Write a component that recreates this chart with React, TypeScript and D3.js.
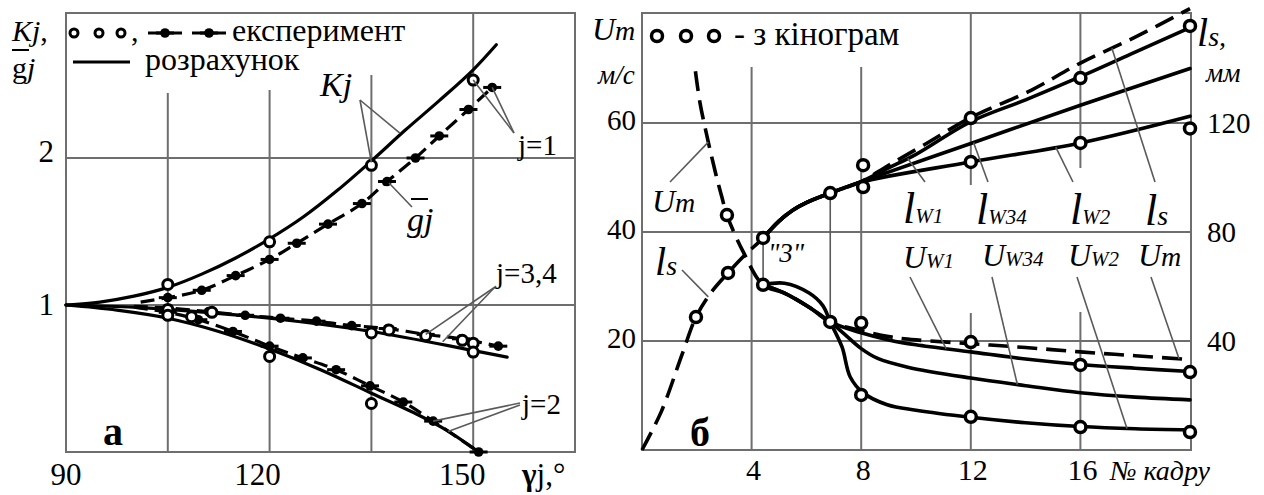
import React from 'react';
import * as d3 from 'd3';

// ---------- panel "а": Kj, gj against gamma_j ----------
const kj1CalcG = [90, 95, 100, 105, 110, 115, 120, 125, 130, 135, 140, 145, 150, 153.4];
const kj1CalcV = [1, 1.02, 1.06, 1.12, 1.21, 1.32, 1.45, 1.6, 1.78, 1.98, 2.19, 2.39, 2.6, 2.77];
const kj1ExpG = [105, 120, 135, 150];
const kj1ExpV = [1.14, 1.43, 1.95, 2.53];
const gj1G = [101, 105, 110, 115, 120, 124, 128.6, 133.6, 137.3, 141.5, 145, 149.3, 152.8];
const gj1V = [1.02, 1.05, 1.1, 1.2, 1.31, 1.42, 1.55, 1.69, 1.84, 2.0, 2.15, 2.33, 2.48];

const calc34G = [90, 100, 105, 120, 135, 150, 155];
const calc34V = [1, 0.985, 0.97, 0.91, 0.82, 0.69, 0.645];
const exp34G = [105, 111.5, 135, 137.6, 143, 148.4, 150, 150];
const exp34V = [0.97, 0.95, 0.81, 0.83, 0.79, 0.76, 0.74, 0.68];
const dash34G = [100, 105, 111, 116.4, 121.6, 126.9, 132.1, 137.4, 143, 148.2, 153.7];
const dash34V = [0.99, 0.98, 0.955, 0.93, 0.91, 0.89, 0.86, 0.84, 0.8, 0.77, 0.72];

const calc2G = [90, 97.5, 105, 112.5, 120, 127.5, 135, 142, 146, 150.8];
const calc2V = [1, 0.965, 0.91, 0.82, 0.7, 0.56, 0.4, 0.25, 0.15, 0];
const exp2G = [105, 108.5, 120, 135];
const exp2V = [0.93, 0.92, 0.65, 0.33];
const dash2G = [100, 105, 109.5, 114.6, 120, 124.9, 129.8, 134.8, 139.7, 144.1, 150.8];
const dash2V = [0.985, 0.95, 0.9, 0.82, 0.72, 0.64, 0.56, 0.45, 0.34, 0.21, 0];

const gammaTicks = [90, 120, 150];
const gammaTickShift = [0, -12, -11];
const kTicks = [1, 2];

// ---------- panel "б": frames ----------
const lsX = [0, 0.7, 1.46, 1.97, 2.5, 3.14, 3.7, 4.42, 5, 5.5, 6, 6.87, 8, 9, 10.3, 12, 14.2, 16, 18, 20];
const lsY = [0, 14, 35, 48.8, 57.5, 65, 71, 77.8, 84, 88, 90.8, 94.3, 98.5, 104.5, 112, 122, 132, 142, 151.5, 162];
const lW1X = [4.42, 5, 5.5, 6, 6.87, 8, 9, 10, 12, 14, 16, 18, 20];
const lW1Y = [77.8, 84, 88, 90.8, 94.3, 98.5, 103.5, 108.5, 120.5, 128.5, 137, 146, 155];
const lW34X = [4.42, 5, 5.5, 6, 6.87, 8, 12, 16, 20];
const lW34Y = [77.8, 84, 88, 90.8, 94.3, 98.5, 112.5, 126.5, 140];
const lW2X = [4.42, 5, 5.5, 6, 6.87, 8, 12, 16, 20];
const lW2Y = [77.8, 84, 88, 90.8, 94.3, 98.3, 105.7, 112.7, 122.5];

const umX = [1.95, 2.12, 2.42, 2.7, 2.91, 3.1, 3.7, 4.42, 5.2, 6.1, 6.87, 8, 9, 10, 12, 14, 16, 18, 20];
const umY = [69.5, 63.6, 56.5, 50.5, 46.5, 43.1, 36.3, 30.3, 28.8, 26.2, 23.5, 21.9, 20.8, 20.2, 19.5, 18.8, 18.0, 17.3, 16.6];
const uW1X = [4.42, 5.2, 6.1, 6.87, 8, 9, 10, 12, 14, 16, 18, 20];
const uW1Y = [30.3, 28.8, 26.2, 23.5, 21.5, 20.2, 19.3, 18.0, 16.7, 15.7, 15.0, 14.4];
const uW34X = [4.42, 5.2, 6.1, 6.87, 7.4, 8, 8.6, 9.7, 12, 14, 16, 18, 20];
const uW34Y = [30.3, 28.8, 26.2, 23.5, 21.2, 18.6, 16.8, 15.2, 13.2, 11.8, 10.5, 9.7, 9.2];
const uW2X = [4.42, 5.2, 6.1, 6.6, 6.87, 7.3, 7.6, 8.07, 8.95, 10, 12, 14, 16, 18, 20];
const uW2Y = [30.3, 30.6, 28.8, 26.5, 23.5, 18.9, 13.4, 10.5, 8.3, 7.3, 6.0, 5.0, 4.3, 3.9, 3.7];

// points from the kinograms
const kinoLX = [1.97, 3.14, 4.42, 6.87, 8.07, 8.07, 12, 12, 16, 16, 20, 20];
const kinoLY = [48.8, 65, 77.8, 94.3, 104.5, 96.5, 121.8, 105.7, 136.5, 112.7, 155.6, 118];
const kinoUX = [3.1, 4.42, 6.87, 8, 8, 12, 12, 16, 16, 20, 20];
const kinoUY = [43.1, 30.3, 23.5, 23.3, 10.1, 19.8, 6.1, 15.6, 4.2, 14.3, 3.3];

const frameTicks = [4, 8, 12, 16];
const uTicks = [20, 40, 60];
const lTicks = [40, 80, 120];

const FONT = "'Liberation Serif', 'Times New Roman', Times, serif";
const GRID = '#6e6e6e';
const LEAD = '#5a5a5a';

// layout
const aL = 66, aR = 575, aT = 13, aB = 452;
const bL = 642, bR = 1191, bT = 13, bB = 450;

const xA = d3.scaleLinear().domain([90, 165]).range([aL, aR]);
const yA = d3.scaleLinear().domain([0, 3]).range([aB, 11]);
const xB = d3.scaleLinear().domain([0, 20]).range([bL, 1190]);
const yU = d3.scaleLinear().domain([0, 60]).range([bB, 123]);
const yLs = d3.scaleLinear().domain([0, 120]).range([bB, 123]);

const curve = d3.line<[number, number]>().curve(d3.curveCatmullRom.alpha(0.5));

const pts = (xs: number[], ys: number[], sx: any, sy: any): [number, number][] =>
  xs.map((x, i) => [sx(x), sy(ys[i])]);

// linear read-off of a series at x, used to aim the leader lines
const at = (xs: number[], ys: number[], x: number) => {
  const i = Math.max(1, d3.bisectLeft(xs, x));
  const t = (x - xs[i - 1]) / (xs[i] - xs[i - 1]);
  return ys[i - 1] + t * (ys[i] - ys[i - 1]);
};

const T = (props: any) => {
  const { size, italic, bold, children, ...rest } = props;
  return (
    <text {...rest} fontFamily={FONT} fontSize={size} fontStyle={italic ? 'italic' : 'normal'} fontWeight={bold ? 700 : 400}>
      {children}
    </text>
  );
};

const Sub = ({ x, y, main, sub, big, small }: any) => (
  <T x={x} y={y} italic>
    <tspan fontSize={big}>{main}</tspan>
    <tspan fontSize={small}>{sub}</tspan>
  </T>
);

export default function App() {
  const solid = { fill: 'none', stroke: '#000', strokeWidth: 3.2, strokeLinecap: 'round' as const };
  const dashedA = { ...solid, strokeDasharray: '14 7', strokeLinecap: 'butt' as const };
  const dashedB = { ...solid, strokeWidth: 3.6, strokeDasharray: '20 9', strokeLinecap: 'butt' as const };

  const ring = (cx: number, cy: number, r: number, k: string, w = 3) => (
    <circle key={k} cx={cx} cy={cy} r={r} fill="#fff" stroke="#000" strokeWidth={w} />
  );
  const dot = (cx: number, cy: number, k: string) => (
    <g key={k}>
      <line x1={cx - 9} x2={cx + 9} y1={cy} y2={cy} stroke="#000" strokeWidth={3} />
      <circle cx={cx} cy={cy} r={4.8} fill="#000" />
    </g>
  );

  const leadA: [number, number, number, number][] = [
    [360, 100, 135, 1.97], [360, 100, 139.2, 2.17],
    [412, 207, 137.6, 1.83],
    [514, 133, 150, 2.53], [514, 133, 152.8, 2.48],
    [495, 287, 143, 0.8], [495, 287, 145.5, 0.75],
    [520, 403, 144.1, 0.21], [520, 405, 146.3, 0.14],
  ];

  const leadB = [
    [925, 182, xB(9.7), yLs(at(lW1X, lW1Y, 9.7))],
    [988, 182, xB(12.1), yLs(at(lW34X, lW34Y, 12.1))],
    [1073, 182, xB(15.1), yLs(at(lW2X, lW2Y, 15.1))],
    [1155, 182, xB(17.15), yLs(at(lsX, lsY, 17.15))],
    [910, 277, xB(11.1), yU(at(uW1X, uW1Y, 11.1))],
    [992, 277, xB(13.7), yU(at(uW34X, uW34Y, 13.7))],
    [1077, 277, xB(17.7), yU(at(uW2X, uW2Y, 17.7))],
    [1151, 277, xB(19.6), yU(at(umX, umY, 19.6))],
    [670, 182, xB(2.42), yU(at(umX, umY, 2.42))],
    [682, 270, xB(2.42), yLs(at(lsX, lsY, 2.42))],
  ];

  return (
    <svg width={1264} height={495} style={{ position: 'absolute', left: 0, top: 0, background: '#fff' }}>
      {/* ================= panel a ================= */}
      <g>
        {[[105, 93], [120, 90], [135, 75], [150, aT]].map(([g, top]) => (
          <line key={'va' + g} x1={xA(g)} x2={xA(g)} y1={top} y2={aB} stroke={GRID} strokeWidth={2} />
        ))}
        {kTicks.map(v => (
          <line key={'ha' + v} x1={aL} x2={aR} y1={yA(v)} y2={yA(v)} stroke={GRID} strokeWidth={2} />
        ))}
        <rect x={aL} y={aT} width={aR - aL} height={aB - aT} fill="none" stroke={GRID} strokeWidth={2} />

        {[74, 99, 121].map(cx => ring(cx, 33, 4, 'lg' + cx, 3))}
        <T x={131} y={41} size={30}>,</T>
        {[148, 192].map(x0 => (
          <line key={'ll' + x0} x1={x0} x2={x0 + 34} y1={33} y2={33} stroke="#000" strokeWidth={3} />
        ))}
        {[165, 209].map(cx => dot(cx, 33, 'ld' + cx))}
        <T x={232} y={41} size={32}>експеримент</T>
        <line x1={73} x2={130} y1={62} y2={62} stroke="#000" strokeWidth={3} />
        <T x={145} y={70} size={32}>розрахунок</T>

        <path d={curve(pts(kj1CalcG, kj1CalcV, xA, yA)) || ''} {...solid} />
        <path d={curve(pts(calc34G, calc34V, xA, yA)) || ''} {...solid} />
        <path d={curve(pts(calc2G, calc2V, xA, yA)) || ''} {...solid} />

        <path d={curve(pts(gj1G, gj1V, xA, yA)) || ''} {...dashedA} />
        <path d={curve(pts(dash34G, dash34V, xA, yA)) || ''} {...dashedA} />
        <path d={curve(pts(dash2G, dash2V, xA, yA)) || ''} {...dashedA} />
        {gj1G.slice(1).map((g, i) => dot(xA(g), yA(gj1V[i + 1]), 'g1' + i))}
        {dash34G.slice(2).map((g, i) => dot(xA(g), yA(dash34V[i + 2]), 'g34' + i))}
        {dash2G.slice(1).map((g, i) => dot(xA(g), yA(dash2V[i + 1]), 'g2' + i))}

        {kj1ExpG.map((g, i) => ring(xA(g), yA(kj1ExpV[i]), 5, 'k1' + i))}
        {exp34G.map((g, i) => ring(xA(g), yA(exp34V[i]), 5, 'k34' + i))}
        {exp2G.map((g, i) => ring(xA(g), yA(exp2V[i]), 5, 'k2' + i))}

        {leadA.map(([x1, y1, g, v], i) => (
          <line key={'la' + i} x1={x1} y1={y1} x2={xA(g)} y2={yA(v)} stroke={LEAD} strokeWidth={1.6} />
        ))}

        <T x={320} y={96} size={34} italic>Kj</T>
        <T x={407} y={231} size={34} italic>gj</T>
        <line x1={411} x2={428} y1={199} y2={199} stroke="#000" strokeWidth={2} />
        <T x={518} y={155} size={29}>j=1</T>
        <T x={496} y={283} size={29}>j=3,4</T>
        <T x={522} y={414} size={29}>j=2</T>
        <T x={103} y={445} size={40} bold>а</T>

        <T x={12} y={41} size={30}>
          <tspan fontStyle="italic">Kj</tspan>,
        </T>
        <line x1={12} x2={29} y1={50} y2={50} stroke="#000" strokeWidth={2} />
        <T x={12} y={78} size={30}>
          g<tspan fontStyle="italic">j</tspan>
        </T>
        {kTicks.map(v => (
          <T key={'kt' + v} x={54} y={yA(v) + (v === 1 ? 10 : 4)} textAnchor="end" size={31}>{v}</T>
        ))}
        {gammaTicks.map((g, i) => (
          <T key={'gt' + g} x={xA(g) + gammaTickShift[i]} y={485} textAnchor="middle" size={31}>{g}</T>
        ))}
        <T x={522} y={485} size={31}>
          <tspan fontWeight={700}>γ</tspan>j,°
        </T>
      </g>

      {/* ================= panel б ================= */}
      <g>
        {[[4, 67, bB], [8, 67, bB], [12, bT, 185], [12, 313, bB], [16, bT, 168], [16, 312, bB]].map(([f, y1, y2], i) => (
          <line key={'vb' + i} x1={xB(f)} x2={xB(f)} y1={y1} y2={y2} stroke={GRID} strokeWidth={2} />
        ))}
        {uTicks.map(v => (
          <line key={'hb' + v} x1={bL} x2={bR} y1={yU(v)} y2={yU(v)} stroke={GRID} strokeWidth={2} />
        ))}
        <rect x={bL} y={bT} width={bR - bL} height={bB - bT} fill="none" stroke={GRID} strokeWidth={2} />

        {[4.42, 6.87].map(f => (
          <line key={'cn' + f} x1={xB(f)} x2={xB(f)} y1={yLs(at(lsX, lsY, f))} y2={yU(at(umX, umY, f))} stroke={LEAD} strokeWidth={1.6} />
        ))}

        {[657, 686, 714].map(cx => ring(cx, 36, 5.5, 'rl' + cx, 3.5))}
        <T x={734} y={45} size={33}>- з кінограм</T>

        <path d={curve(pts(lsX, lsY, xB, yLs)) || ''} {...dashedB} />
        <path d={curve(pts(lW1X, lW1Y, xB, yLs)) || ''} {...solid} strokeWidth={3.6} />
        <path d={curve(pts(lW34X, lW34Y, xB, yLs)) || ''} {...solid} strokeWidth={3.6} />
        <path d={curve(pts(lW2X, lW2Y, xB, yLs)) || ''} {...solid} strokeWidth={3.6} />
        <path d={curve(pts(umX, umY, xB, yU)) || ''} {...dashedB} />
        <path d={curve(pts(uW1X, uW1Y, xB, yU)) || ''} {...solid} strokeWidth={3.6} />
        <path d={curve(pts(uW34X, uW34Y, xB, yU)) || ''} {...solid} strokeWidth={3.6} />
        <path d={curve(pts(uW2X, uW2Y, xB, yU)) || ''} {...solid} strokeWidth={3.6} />

        {kinoLX.map((f, i) => ring(xB(f), yLs(kinoLY[i]), 5.5, 'kl' + i, 3.5))}
        {kinoUX.map((f, i) => ring(xB(f), yU(kinoUY[i]), 5.5, 'ku' + i, 3.5))}

        {leadB.map(([x1, y1, x2, y2], i) => (
          <line key={'lb' + i} x1={x1} y1={y1} x2={x2} y2={y2} stroke={LEAD} strokeWidth={1.6} />
        ))}

        <Sub x={903} y={223} main="l" sub="W1" big={44} small={21} />
        <Sub x={976} y={224} main="l" sub="W34" big={44} small={21} />
        <Sub x={1070} y={224} main="l" sub="W2" big={44} small={21} />
        <Sub x={1145} y={225} main="l" sub="s" big={44} small={28} />
        <Sub x={903} y={268} main="U" sub="W1" big={32} small={21} />
        <Sub x={982} y={266} main="U" sub="W34" big={32} small={21} />
        <Sub x={1068} y={266} main="U" sub="W2" big={32} small={21} />
        <Sub x={1138} y={266} main="U" sub="m" big={32} small={28} />
        <Sub x={652} y={212} main="U" sub="m" big={32} small={28} />
        <Sub x={655} y={275} main="l" sub="s" big={40} small={28} />
        <T x={768} y={262} size={27} italic>"3"</T>
        <T x={690} y={446} size={40} bold>б</T>

        <Sub x={592} y={40} main="U" sub="m" big={32} small={28} />
        <T x={598} y={84} size={27} italic>м/с</T>
        <Sub x={1197} y={46} main="l" sub="s," big={40} small={28} />
        <T x={1206} y={82} size={27} italic>мм</T>
        {uTicks.map(v => (
          <T key={'ut' + v} x={636} y={yU(v) + 7} textAnchor="end" size={29}>{v}</T>
        ))}
        {lTicks.map(v => (
          <T key={'lt' + v} x={1207} y={yLs(v) + 10} size={29}>{v}</T>
        ))}
        {frameTicks.map(f => (
          <T key={'ft' + f} x={xB(f) + 2} y={480} textAnchor="middle" size={30}>{f}</T>
        ))}
        <T x={1110} y={480} size={28} italic>№ кадру</T>
      </g>
    </svg>
  );
}
